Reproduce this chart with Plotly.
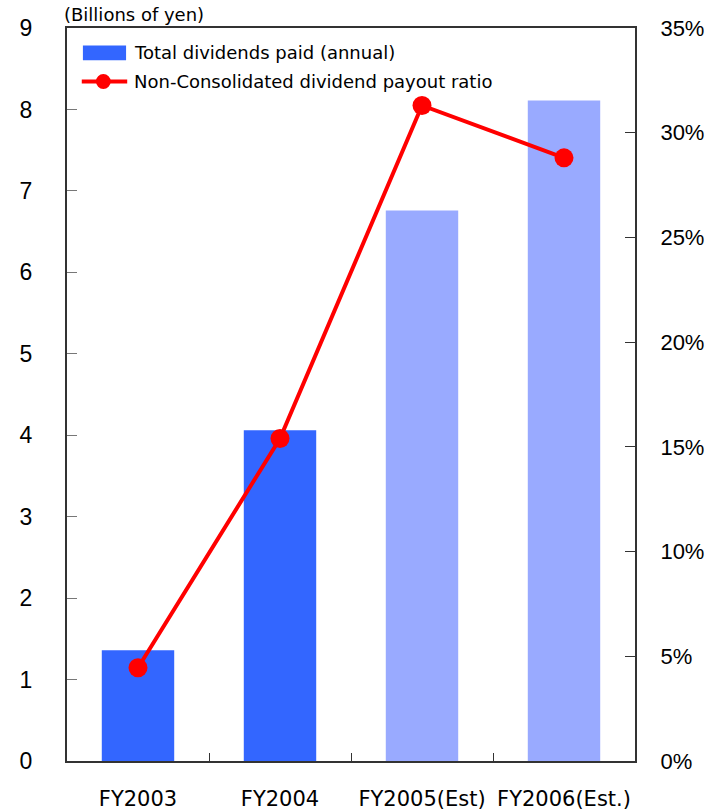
import plotly.graph_objects as go

# Fiscal years and values
years = ["FY2003", "FY2004", "FY2005(Est)", "FY2006(Est.)"]
dividends = [1.36, 4.06, 6.76, 8.11]          # billions of yen
payout_ratio = [4.45, 15.4, 31.3, 28.8]       # percent
bar_colors = ["#3366FF", "#3366FF", "#99AAFF", "#99AAFF"]

left_ticks = list(range(0, 10))
right_ticks = list(range(0, 40, 5))
right_labels = [f"{v}%" for v in right_ticks]

AXIS_COLOR = "#333333"
TEXT_FONT = "DejaVu Sans"
SANS = "Liberation Sans"

fig = go.Figure()

fig.add_trace(go.Bar(
    x=years, y=dividends, marker=dict(color=bar_colors, line=dict(width=0)),
    width=0.51, showlegend=False, yaxis="y",
))

fig.add_trace(go.Scatter(
    x=years, y=payout_ratio, mode="lines+markers",
    line=dict(color="#FF0000", width=4),
    marker=dict(color="#FF0000", size=19),
    showlegend=False, yaxis="y2",
))

fig.update_layout(
    width=710, height=811,
    margin=dict(l=67, r=75, t=28, b=50),
    plot_bgcolor="white", paper_bgcolor="white",
    bargap=0.49,
    xaxis=dict(
        type="category", showgrid=False, showline=True, mirror=True,
        linecolor=AXIS_COLOR, linewidth=2, automargin=False, tickangle=0,
        ticks="inside", tickson="boundaries", ticklen=8, tickcolor=AXIS_COLOR,
        tickfont=dict(family=TEXT_FONT, size=21, color="black"),
        ticklabelstandoff=18,
    ),
    yaxis=dict(
        range=[0, 9], tickvals=left_ticks, showgrid=False, zeroline=False,
        showline=True, linecolor=AXIS_COLOR, linewidth=2, automargin=False,
        ticks="inside", ticklen=10, tickcolor="#777777",
        tickfont=dict(family=SANS, size=23, color="black"),
        ticklabelstandoff=28,
    ),
    yaxis2=dict(
        range=[0, 35], tickvals=right_ticks, ticktext=right_labels,
        overlaying="y", side="right", showgrid=False, zeroline=False,
        showline=True, linecolor=AXIS_COLOR, linewidth=2, automargin=False,
        ticks="inside", ticklen=10, tickcolor=AXIS_COLOR,
        tickfont=dict(family=SANS, size=22, color="black"),
        ticklabelstandoff=19,
    ),
)

# Legend drawn in the upper-left corner of the plot
fig.add_shape(type="rect", xref="paper", yref="paper",
              x0=0.028, x1=0.104, y0=0.956, y1=0.976,
              fillcolor="#3366FF", line=dict(width=0))
fig.add_shape(type="line", xref="paper", yref="paper",
              x0=0.026, x1=0.106, y0=0.927, y1=0.927,
              line=dict(color="#FF0000", width=4))
fig.add_shape(type="circle", xref="paper", yref="paper",
              x0=0.064 - 0.013, x1=0.064 + 0.013,
              y0=0.927 - 0.0101, y1=0.927 + 0.0101,
              fillcolor="#FF0000", line=dict(width=0))
fig.add_annotation(text="Total dividends paid (annual)", xref="paper", yref="paper",
                   x=0.114, y=0.967, xanchor="left", yanchor="middle", showarrow=False,
                   font=dict(family=TEXT_FONT, size=18, color="black"))
fig.add_annotation(text="Non-Consolidated dividend payout ratio", xref="paper", yref="paper",
                   x=0.114, y=0.927, xanchor="left", yanchor="middle", showarrow=False,
                   font=dict(family=TEXT_FONT, size=18, color="black"))

# Unit label above the left axis
fig.add_annotation(text="(Billions of yen)", xref="paper", yref="paper",
                   x=-0.009, y=1.018, xanchor="left", yanchor="middle", showarrow=False,
                   font=dict(family=TEXT_FONT, size=18, color="black"))

fig.write_html("out.html")
